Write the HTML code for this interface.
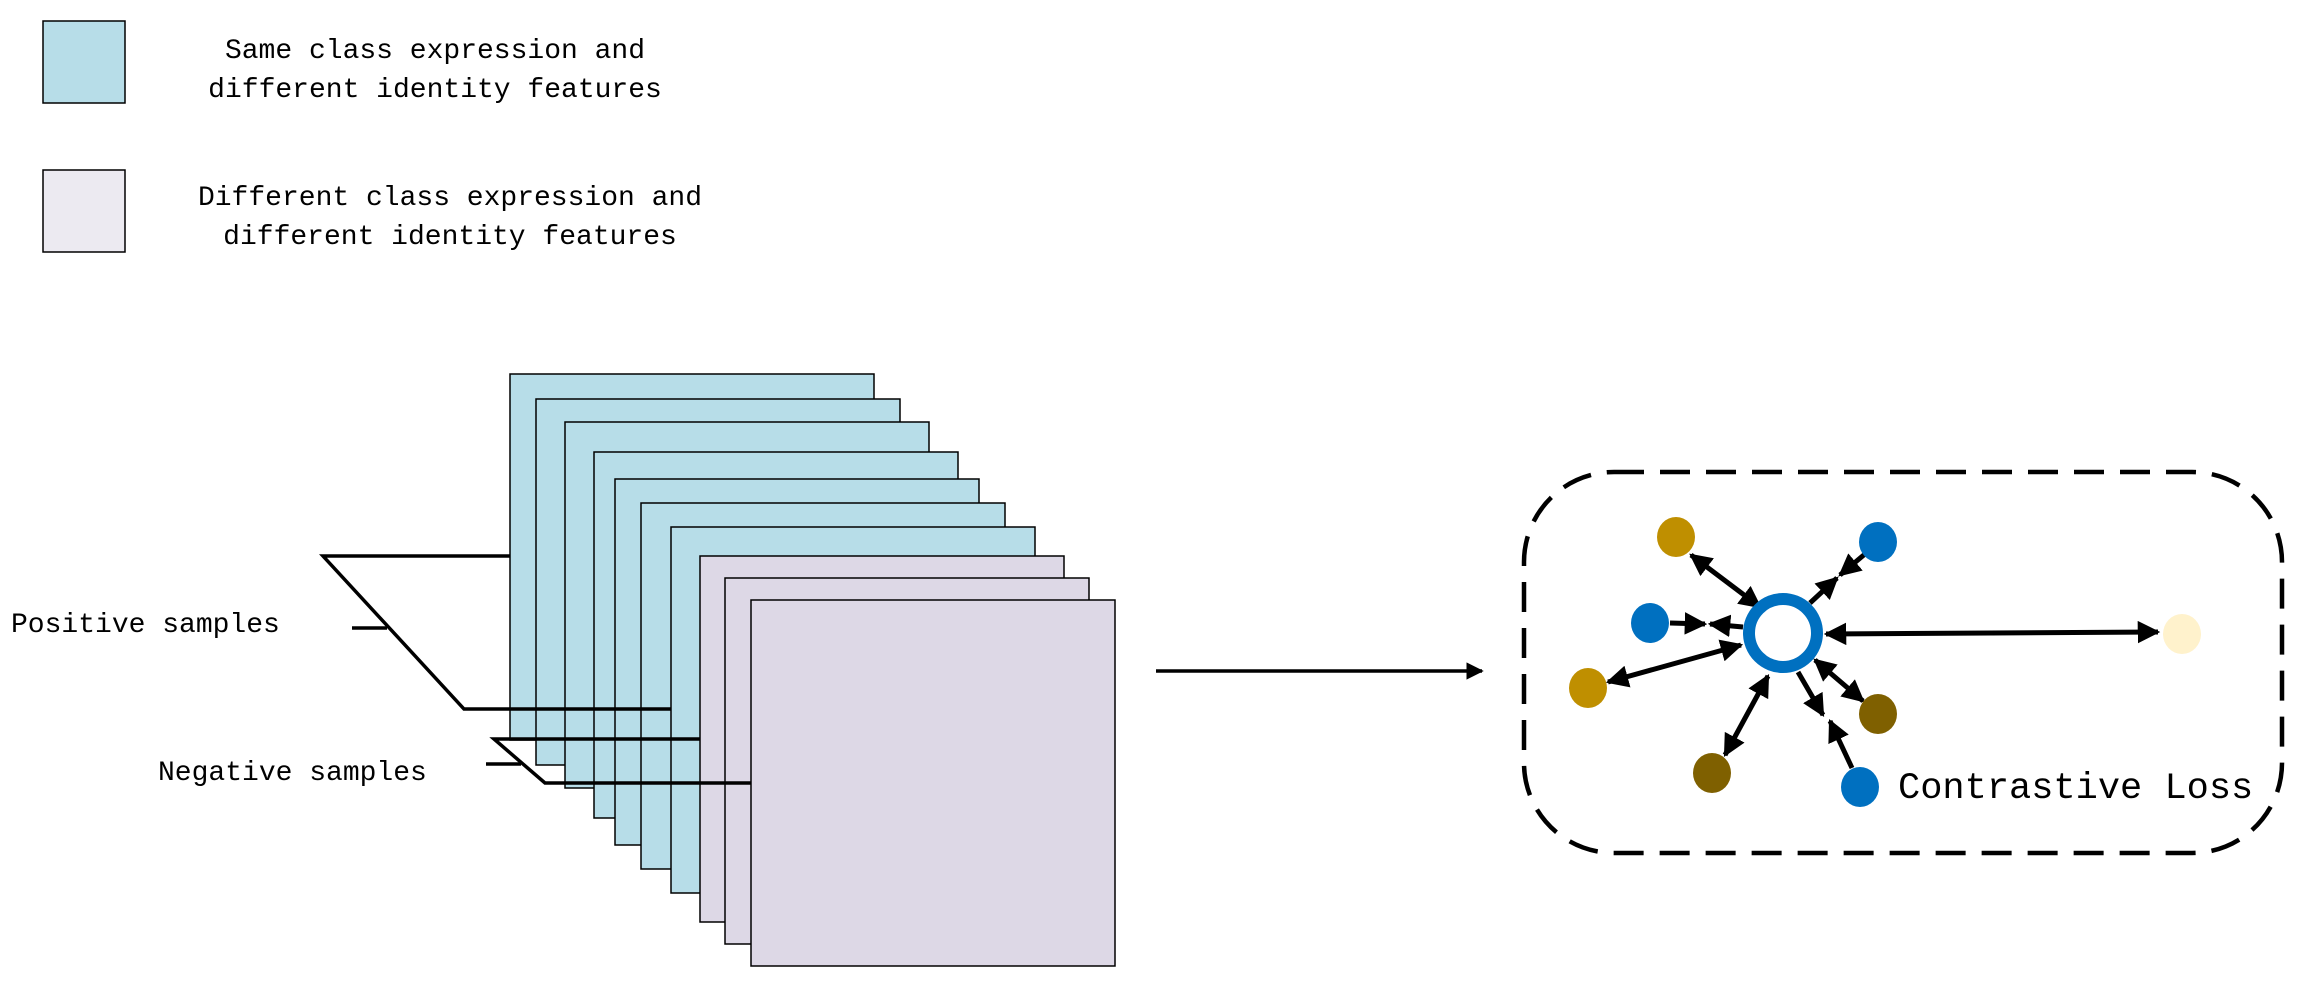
<!DOCTYPE html>
<html><head><meta charset="utf-8"><style>
html,body{margin:0;padding:0;background:#fff;}
svg{display:block;}
text{font-family:"Liberation Mono","DejaVu Sans Mono",monospace;fill:#000;}
</style></head><body>
<svg width="2303" height="982" viewBox="0 0 2303 982" xmlns="http://www.w3.org/2000/svg">
<defs>
<marker id="a" viewBox="0 0 10 10" refX="9" refY="5" markerWidth="4.5" markerHeight="4.5" orient="auto-start-reverse" markerUnits="strokeWidth"><path d="M0,0 L10,5 L0,10 z" fill="#000"/></marker>
<marker id="b" viewBox="0 0 10 10" refX="9" refY="5" markerWidth="5" markerHeight="5" orient="auto" markerUnits="strokeWidth"><path d="M0,0 L10,5 L0,10 z" fill="#000"/></marker>
</defs>
<!-- legend -->
<rect x="43" y="21" width="82" height="82" fill="#B7DDE8" stroke="#000" stroke-width="1.5"/>
<text x="435" y="58" font-size="28" text-anchor="middle">Same class expression and</text>
<text x="435" y="97" font-size="28" text-anchor="middle">different identity features</text>
<rect x="43" y="170" width="82" height="82" fill="#ECEAF1" stroke="#000" stroke-width="1.5"/>
<text x="450" y="205" font-size="28" text-anchor="middle">Different class expression and</text>
<text x="450" y="244" font-size="28" text-anchor="middle">different identity features</text>
<!-- stack -->
<g stroke="#000" stroke-width="1.5">
<rect x="510" y="374" width="364" height="366" fill="#B7DDE8"/>
<rect x="536" y="399" width="364" height="366" fill="#B7DDE8"/>
<rect x="565" y="422" width="364" height="366" fill="#B7DDE8"/>
<rect x="594" y="452" width="364" height="366" fill="#B7DDE8"/>
<rect x="615" y="479" width="364" height="366" fill="#B7DDE8"/>
<rect x="641" y="503" width="364" height="366" fill="#B7DDE8"/>
<rect x="671" y="527" width="364" height="366" fill="#B7DDE8"/>
<rect x="700" y="556" width="364" height="366" fill="#DDD8E6"/>
<rect x="725" y="578" width="364" height="366" fill="#DDD8E6"/>
<rect x="751" y="600" width="364" height="366" fill="#DDD8E6"/>
</g>
<g stroke="#000" stroke-width="3.5" fill="none">
<polyline points="510,556 323,556 464,709 671,709"/>
<line x1="352" y1="628" x2="387" y2="628"/>
<polyline points="700,739 494,739 545,783 751,783"/>
<line x1="486" y1="764" x2="521" y2="764"/>
</g>
<text x="11" y="632" font-size="28">Positive samples</text>
<text x="158" y="780" font-size="28">Negative samples</text>
<!-- main arrow -->
<line x1="1156" y1="671" x2="1482" y2="671" stroke="#000" stroke-width="3.5" marker-end="url(#b)"/>
<!-- dashed box -->
<rect x="1524" y="472" width="758" height="381" rx="90" ry="90" fill="none" stroke="#000" stroke-width="4.5" stroke-dasharray="30 16"/>
<!-- arrows -->
<g stroke="#000" stroke-width="5" fill="none">
<line x1="1691" y1="555" x2="1760" y2="607" marker-start="url(#a)" marker-end="url(#a)"/>
<line x1="1608" y1="682" x2="1741" y2="645" marker-start="url(#a)" marker-end="url(#a)"/>
<line x1="1725" y1="755" x2="1768" y2="676" marker-start="url(#a)" marker-end="url(#a)"/>
<line x1="1863" y1="701" x2="1815" y2="660" marker-start="url(#a)" marker-end="url(#a)"/>
<line x1="1826" y1="634" x2="2158" y2="632" marker-start="url(#a)" marker-end="url(#a)"/>
<line x1="1670" y1="623" x2="1705" y2="624" marker-end="url(#a)"/>
<line x1="1743" y1="627" x2="1710" y2="624" marker-end="url(#a)"/>
<line x1="1865" y1="554" x2="1840" y2="575" marker-end="url(#a)"/>
<line x1="1810" y1="603" x2="1837" y2="578" marker-end="url(#a)"/>
<line x1="1852" y1="768" x2="1830" y2="721" marker-end="url(#a)"/>
<line x1="1798" y1="672" x2="1823" y2="715" marker-end="url(#a)"/>
</g>
<!-- nodes -->
<circle cx="1783" cy="633" r="34" fill="#fff" stroke="#0070C0" stroke-width="12"/>
<ellipse cx="1676" cy="537" rx="19" ry="20" fill="#BF8F00"/>
<ellipse cx="1878" cy="542" rx="19" ry="20" fill="#0070C0"/>
<ellipse cx="1650" cy="623" rx="19" ry="20" fill="#0070C0"/>
<ellipse cx="1588" cy="688" rx="19" ry="20" fill="#BF8F00"/>
<ellipse cx="1878" cy="714" rx="19" ry="20" fill="#7F6000"/>
<ellipse cx="1712" cy="773" rx="19" ry="20" fill="#7F6000"/>
<ellipse cx="1860" cy="787" rx="19" ry="20" fill="#0070C0"/>
<ellipse cx="2182" cy="634" rx="19" ry="20" fill="#FFF2CC"/>
<text x="1898" y="798" font-size="37">Contrastive Loss</text>
</svg>
</body></html>
